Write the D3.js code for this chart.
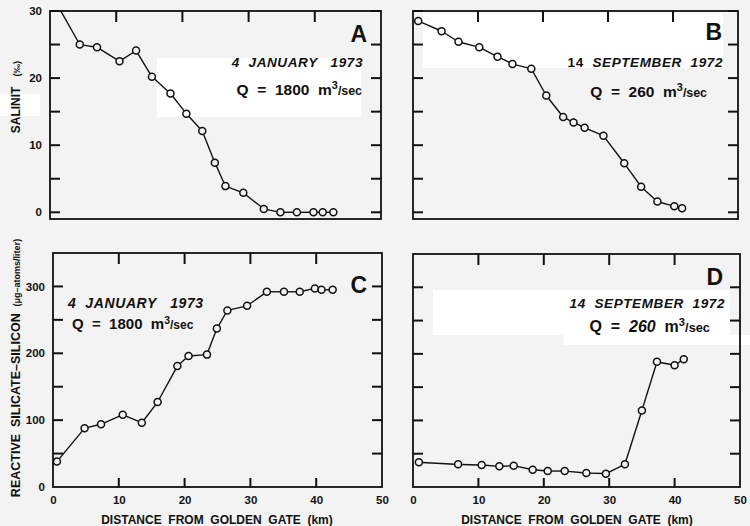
<!DOCTYPE html>
<html><head><meta charset="utf-8">
<script src="https://cdn.jsdelivr.net/npm/d3@7"></script>
<style>
body{margin:0;background:#f3f3f3}
svg text{font-family:"Liberation Sans",Arial,Helvetica,sans-serif;font-weight:bold;fill:#111}
</style>
</head><body>
<svg id="chart" width="750" height="526"></svg>
<script>
// ---- data ----
const salJanKm  = [0.6, 4.5, 7.1, 10.5, 13.0, 15.4, 18.2, 20.6, 23.0, 24.9, 26.5, 29.2, 32.3, 34.8, 37.3, 39.8, 41.2, 42.8];
const salJanVal = [31.8, 25.0, 24.6, 22.5, 24.1, 20.2, 17.7, 14.7, 12.1, 7.4, 3.9, 2.9, 0.5, 0, 0, 0, 0, 0];
const salSepKm  = [0.8, 4.4, 7.0, 10.2, 13.0, 15.3, 18.2, 20.5, 23.1, 24.7, 26.4, 29.3, 32.5, 35.1, 37.6, 40.2, 41.4];
const salSepVal = [28.5, 27.0, 25.4, 24.6, 23.2, 22.1, 21.4, 17.4, 14.2, 13.4, 12.6, 11.4, 7.3, 3.8, 1.6, 0.9, 0.6];
const siJanKm   = [0.6, 4.8, 7.3, 10.6, 13.5, 15.9, 18.9, 20.6, 23.4, 24.9, 26.5, 29.5, 32.5, 35.1, 37.5, 39.8, 40.8, 42.5];
const siJanVal  = [38, 88, 94, 108, 96, 127, 181, 196, 198, 237, 264, 271, 292, 292, 292, 297, 295, 295];
const siSepKm   = [0.9, 6.9, 10.5, 13.2, 15.4, 18.3, 20.6, 23.2, 26.5, 29.5, 32.4, 35.0, 37.3, 40.0, 41.4];
const siSepVal  = [37, 34, 33, 31, 32, 26, 24, 24, 21, 20, 34, 115, 188, 183, 192];

const xTickLabels   = [0, 10, 20, 30, 40, 50];
const xInnerTicks   = [10, 20, 30, 40];
const salTicks      = [0, 5, 10, 15, 20, 25, 30];
const salTickLabels = [0, 10, 20, 30];
const siTicks       = [50, 100, 150, 200, 250, 300];
const siTickLabels  = [0, 100, 200, 300];
const panelLetters  = ["A", "B", "C", "D"];

// ---- layout ----
const svg = d3.select("#chart");
const BG = "#f3f3f3";
svg.append("rect").attr("width",750).attr("height",526).attr("fill",BG);

const panels = [
  {id:"A", km:salJanKm, val:salJanVal, x:[50,381],  y:[219,11],  ydom:[-1,30], yt:salTicks, yl:salTickLabels, bottom:false},
  {id:"B", km:salSepKm, val:salSepVal, x:[413,738], y:[219,11],  ydom:[-1,30], yt:salTicks, yl:null,          bottom:false},
  {id:"C", km:siJanKm,  val:siJanVal,  x:[53,382],  y:[487,253], ydom:[0,350], yt:siTicks,  yl:siTickLabels,  bottom:true},
  {id:"D", km:siSepKm,  val:siSepVal,  x:[413,740], y:[487,254], ydom:[0,350], yt:siTicks,  yl:null,          bottom:true}
];

// scan patches (white areas of the original)
const patches = [[157,58,204,59],[0,94,40,22],[423,13,300,55],[433,290,297,45],[563,335,187,10]];
svg.selectAll("rect.patch").data(patches).join("rect").attr("class","patch")
  .attr("x",d=>d[0]).attr("y",d=>d[1]).attr("width",d=>d[2]).attr("height",d=>d[3]).attr("fill","#fff");

const R = 3.5;
const tickLayer = svg.append("g").attr("stroke","#111").attr("stroke-width",2);
panels.forEach((p,i)=>{
  const x = d3.scaleLinear().domain([0,50]).range(p.x);
  const y = d3.scaleLinear().domain(p.ydom).range(p.y);
  const g = svg.append("g");
  const clipId = "clip"+p.id;
  svg.append("clipPath").attr("id",clipId).append("rect")
    .attr("x",p.x[0]).attr("y",p.y[1]).attr("width",p.x[1]-p.x[0]).attr("height",p.y[0]-p.y[1]);

  // tick marks (inward)
  const tk = tickLayer.append("g");
  tk.selectAll("line.l").data(p.yt).join("line").attr("class","l")
    .attr("x1",p.x[0]).attr("x2",p.x[0]+10).attr("y1",d=>y(d)).attr("y2",d=>y(d));
  tk.selectAll("line.r").data(p.yt).join("line").attr("class","r")
    .attr("x1",p.x[1]).attr("x2",p.x[1]-10).attr("y1",d=>y(d)).attr("y2",d=>y(d));
  tk.selectAll("line.t").data(xInnerTicks).join("line").attr("class","t")
    .attr("x1",d=>x(d)).attr("x2",d=>x(d)).attr("y1",p.y[1]).attr("y2",p.y[1]+11);
  if (p.bottom) {
    tk.selectAll("line.b").data(xInnerTicks).join("line").attr("class","b")
      .attr("x1",d=>x(d)).attr("x2",d=>x(d)).attr("y1",p.y[0]).attr("y2",p.y[0]-9);
    g.append("g").attr("transform",`translate(0,${p.y[0]})`)
      .call(d3.axisBottom(x).tickValues(xTickLabels).tickSize(0).tickPadding(9).tickFormat(d3.format("d")))
      .call(s=>{s.select(".domain").remove(); s.selectAll("text").attr("font-size",11.5).attr("font-family",null);});
  }
  if (p.yl) {
    g.append("g").attr("transform",`translate(${p.x[0]},0)`)
      .call(d3.axisLeft(y).tickValues(p.yl).tickSize(0).tickPadding(8).tickFormat(d3.format("d")))
      .call(s=>{s.select(".domain").remove(); s.selectAll("text").attr("font-size",11.5).attr("font-family",null);});
  }
  // frame
  g.append("rect").attr("x",p.x[0]).attr("y",p.y[1]).attr("width",p.x[1]-p.x[0]).attr("height",p.y[0]-p.y[1])
    .attr("fill","none").attr("stroke","#111").attr("stroke-width",1.8);

  // data
  const pts = p.km.map((k,j)=>[x(k), y(p.val[j])]);
  const segs = d3.pairs(pts).map(([a,b])=>{
    const dx=b[0]-a[0], dy=b[1]-a[1], L=Math.hypot(dx,dy);
    const ux=dx/L, uy=dy/L;
    return [a[0]+ux*R, a[1]+uy*R, b[0]-ux*R, b[1]-uy*R, L];
  }).filter(s=>s[4]>2*R+0.5);
  const dg = g.append("g").attr("clip-path",`url(#${clipId})`);
  dg.selectAll("line").data(segs).join("line")
    .attr("x1",d=>d[0]).attr("y1",d=>d[1]).attr("x2",d=>d[2]).attr("y2",d=>d[3])
    .attr("stroke","#111").attr("stroke-width",1.4);
  dg.selectAll("circle").data(pts).join("circle")
    .attr("cx",d=>d[0]).attr("cy",d=>d[1]).attr("r",R)
    .attr("fill","none").attr("stroke","#111").attr("stroke-width",1.5);
});

// panel letters
const letterPos = [[367,42],[722,40],[367,293],[723,285]];
svg.selectAll("text.letter").data(panelLetters).join("text").attr("class","letter")
  .attr("x",(d,i)=>letterPos[i][0]).attr("y",(d,i)=>letterPos[i][1])
  .attr("text-anchor","end").attr("font-size",23).text(d=>d);

// annotations
function qText(g, x, y, anchor, num, size, numItalic){
  const t = g.append("text").attr("x",x).attr("y",y).attr("text-anchor",anchor).attr("font-size",size)
    .style("white-space","pre");
  t.append("tspan").text("Q  =  ");
  t.append("tspan").attr("font-style",numItalic?"italic":null).text(num);
  t.append("tspan").text("  m");
  t.append("tspan").attr("font-size",size*0.7).attr("dy",-size*0.36).text("3");
  t.append("tspan").attr("font-size",size*0.8).attr("dy",size*0.36).text("/sec");
  return t;
}
function dateText(g, x, y, anchor, parts, size, weight){
  const t = g.append("text").attr("x",x).attr("y",y).attr("text-anchor",anchor).attr("font-size",size)
    .attr("font-weight",weight).style("white-space","pre").attr("letter-spacing",0.6);
  parts.forEach(([s,it])=>t.append("tspan").attr("font-style",it?"italic":null).text(s));
  return t;
}
const ann = svg.append("g");
dateText(ann, 363, 67, "end", [["4  JANUARY   1973",true]], 13.5, "bold");
qText(ann, 362, 95, "end", "1800", 15.5, false);
dateText(ann, 723, 67, "end", [["14  ",false],["SEPTEMBER  1972",true]], 13.5, "bold");
qText(ann, 707, 97, "end", "260", 15.5, false);
dateText(ann, 68, 308, "start", [["4  JANUARY   1973",true]], 14, "normal");
qText(ann, 72, 329, "start", "1800", 15, false);
dateText(ann, 725, 308, "end", [["14  SEPTEMBER  1972",true]], 13.5, "bold");
qText(ann, 710, 332, "end", "260", 16, true);

// axis titles
const yt1 = svg.append("text").attr("transform","translate(20,97) rotate(-90)").attr("text-anchor","middle")
  .attr("font-size",12).style("white-space","pre");
yt1.append("tspan").text("SALINIT   ");
yt1.append("tspan").attr("font-size",9.5).text("(‰)");
const yt2 = svg.append("text").attr("transform","translate(20,368) rotate(-90)").attr("text-anchor","middle")
  .attr("font-size",12.5).style("white-space","pre");
yt2.append("tspan").text("REACTIVE  SILICATE–SILICON  ");
yt2.append("tspan").attr("font-size",9).text("(μg–atoms/liter)");

[[217],[577]].forEach(([cx])=>{
  const t = svg.append("text").attr("x",cx).attr("y",524).attr("text-anchor","middle").attr("font-size",12)
    .style("white-space","pre");
  t.append("tspan").text("DISTANCE  FROM  GOLDEN  GATE  ");
  t.append("tspan").attr("font-weight",900).text("(km)");
});
</script>
</body></html>
